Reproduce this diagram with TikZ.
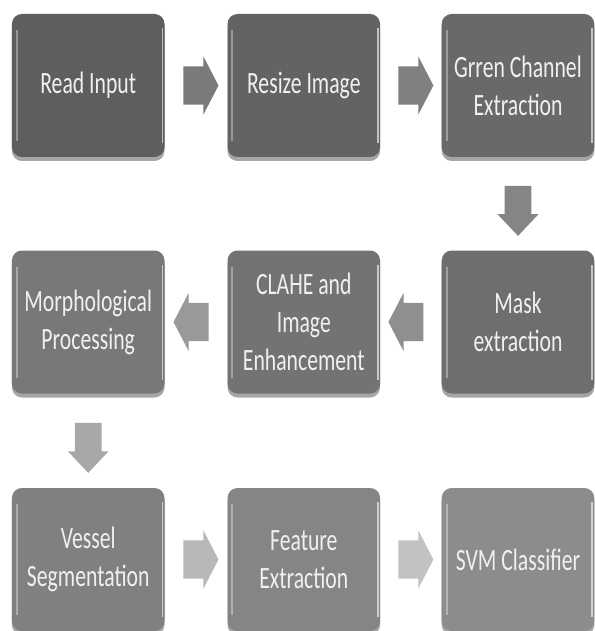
\documentclass[tikz,border=0pt]{standalone}
\usepackage{fontspec}
\setmainfont{Carlito}
\usetikzlibrary{calc,shapes.arrows,shadows}
\tikzset{
  stepbox/.style={rectangle,rounded corners=10,minimum width=218,minimum height=143,
    inner sep=0,align=center,text=white!94!black,font=\fontsize{31}{38}\selectfont,
    drop shadow={shadow xshift=0pt,shadow yshift=-4pt,opacity=.35,fill=black},
    path picture={
      \draw[white,opacity=.35,line width=2](path picture bounding box.north west)++(7,16)--++(0,111);
      \draw[white,opacity=.6,line width=1.5](path picture bounding box.north east)++(-3,14)--++(0,115);
    }},
  blockarr/.style={single arrow,minimum height=50,inner xsep=0,inner ysep=19,
    single arrow head extend=10,single arrow tip angle=107}
}
\begin{document}
\begin{tikzpicture}[x=1pt,y=-1pt,xscale=.7,every node/.style={transform shape}]
\useasboundingbox[fill=white](0,0)rectangle(848.6,631);
%boxes
\node[stepbox,fill=black!63](b1)at(126,85.5){Read Input};
\node[stepbox,fill=black!61](b2)at(434,85.5){Resize Image};
\node[stepbox,fill=black!59](b3)at(740,85.5){Grren Channel\\Extraction};
\node[stepbox,fill=black!57](b4)at(740,322){Mask\\extraction};
\node[stepbox,fill=black!55](b5)at(434,322){CLAHE and\\Image\\Enhancement};
\node[stepbox,fill=black!53](b6)at(126,322){Morphological\\Processing};
\node[stepbox,fill=black!50](b7)at(126,559.5){Vessel\\Segmentation};
\node[stepbox,fill=black!48](b8)at(434,559.5){Feature\\Extraction};
\node[stepbox,fill=black!45](b9)at(740,559.5){SVM Classifier};
%arrows
\foreach \a/\b/\r/\c in {b1/b2/0/52,b2/b3/0/50,b3/b4/-90/48,b4/b5/180/44,b5/b6/180/40,b6/b7/-90/34,b7/b8/0/28,b8/b9/0/24}{
\node[blockarr,rotate=\r,fill=black!\c](\a\b)at($(\a)!0.5!(\b)$){};
}
\end{tikzpicture}
\end{document}
